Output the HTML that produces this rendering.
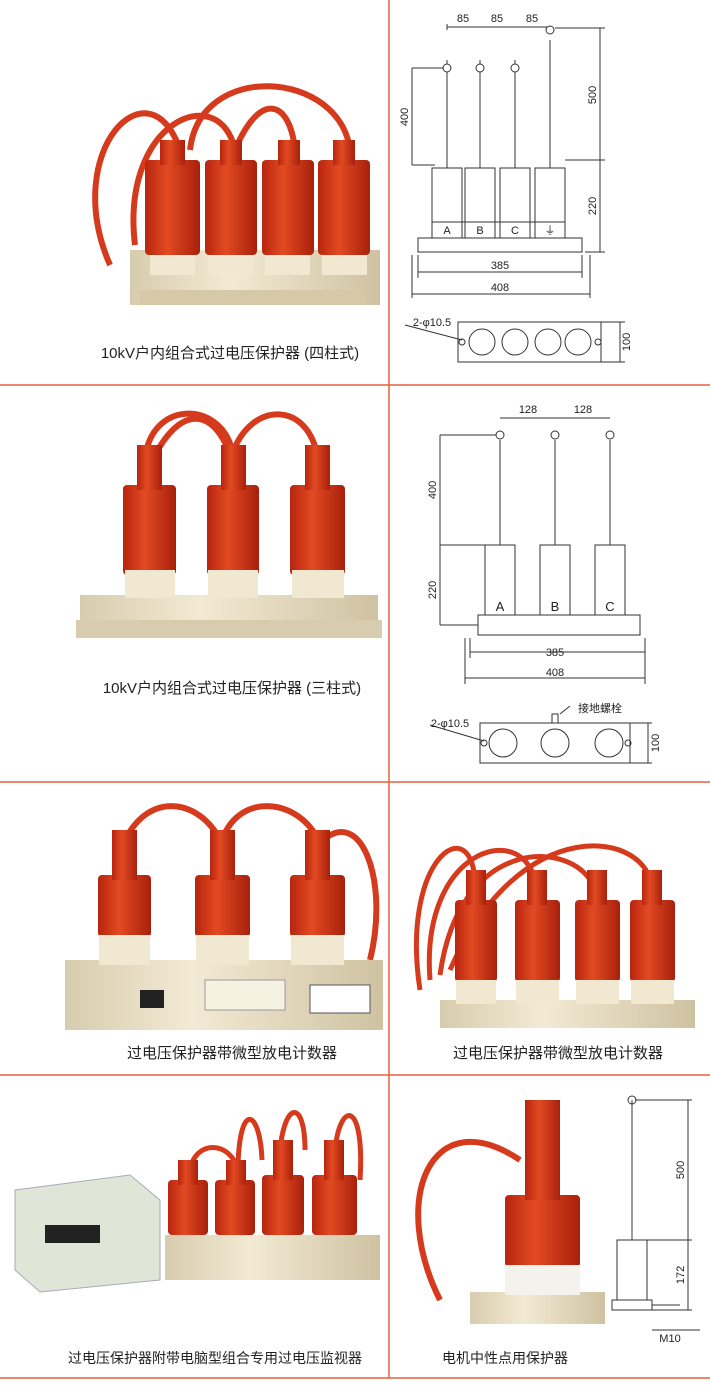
<!DOCTYPE html>
<html><head><meta charset="utf-8"><style>
html,body{margin:0;padding:0;background:#fff;}
svg{display:block;}
text{font-family:"Liberation Sans","Noto Sans CJK SC",sans-serif;fill:#222;}
</style></head><body>
<svg width="710" height="1400" viewBox="0 0 710 1400" xmlns="http://www.w3.org/2000/svg">
<defs>
<linearGradient id="red" x1="0" x2="1"><stop offset="0" stop-color="#b8250f"/><stop offset=".4" stop-color="#e24a22"/><stop offset="1" stop-color="#a8200c"/></linearGradient>
<linearGradient id="cream" x1="0" x2="1"><stop offset="0" stop-color="#d8ccae"/><stop offset=".4" stop-color="#f2ead4"/><stop offset="1" stop-color="#cfc2a2"/></linearGradient>
</defs>
<!-- grid lines -->
<g stroke="#e8603c" stroke-width="1.5">
<line x1="0" y1="385" x2="710" y2="385"/><line x1="0" y1="782" x2="710" y2="782"/>
<line x1="0" y1="1075" x2="710" y2="1075"/><line x1="0" y1="1378" x2="710" y2="1378"/>
<line x1="389" y1="0" x2="389" y2="1378"/>
</g>

<!-- SECTION 1 left photo -->
<g fill="none" stroke="#d63a1c" stroke-width="6">
<path d="M110 265 C60 150 150 60 180 150"/><path d="M135 245 C120 120 220 80 235 150"/>
<path d="M190 150 C200 60 340 70 350 150"/><path d="M235 150 C260 90 290 100 295 150"/>
</g>
<rect x="130" y="250" width="250" height="55" fill="url(#cream)"/>
<rect x="140" y="290" width="225" height="15" fill="#d6c9a8"/>
<g fill="url(#red)">
<rect x="145" y="160" width="55" height="95" rx="4"/><rect x="205" y="160" width="52" height="95" rx="4"/>
<rect x="262" y="160" width="52" height="95" rx="4"/><rect x="318" y="160" width="52" height="95" rx="4"/>
<rect x="160" y="140" width="25" height="25"/><rect x="220" y="140" width="22" height="25"/><rect x="278" y="140" width="22" height="25"/><rect x="333" y="140" width="22" height="25"/>
</g>
<g fill="#f0e8d0"><rect x="150" y="255" width="45" height="20"/><rect x="208" y="255" width="45" height="20"/><rect x="265" y="255" width="45" height="20"/><rect x="322" y="255" width="45" height="20"/></g>
<text x="230" y="358" font-size="15" text-anchor="middle">10kV户内组合式过电压保护器 (四柱式)</text>

<!-- SECTION 1 right drawing -->
<g stroke="#333" stroke-width="1" fill="none">
<line x1="447" y1="60" x2="447" y2="168"/><line x1="480" y1="60" x2="480" y2="168"/><line x1="515" y1="60" x2="515" y2="168"/><line x1="550" y1="40" x2="550" y2="168"/>
<rect x="432" y="168" width="30" height="70"/><rect x="465" y="168" width="30" height="70"/><rect x="500" y="168" width="30" height="70"/><rect x="535" y="168" width="30" height="70"/>
<line x1="432" y1="222" x2="565" y2="222"/>
<path d="M418 238 H582 V252 H418 Z"/>
<line x1="447" y1="30" x2="447" y2="24"/><line x1="447" y1="27" x2="550" y2="27"/>
<line x1="412" y1="68" x2="412" y2="165"/><line x1="412" y1="68" x2="445" y2="68"/><line x1="412" y1="165" x2="435" y2="165"/>
<line x1="600" y1="28" x2="600" y2="252"/><line x1="555" y1="28" x2="605" y2="28"/><line x1="565" y1="160" x2="605" y2="160"/><line x1="585" y1="252" x2="605" y2="252"/>
<line x1="418" y1="272" x2="582" y2="272"/><line x1="412" y1="294" x2="590" y2="294"/>
<line x1="418" y1="255" x2="418" y2="278"/><line x1="582" y1="255" x2="582" y2="278"/><line x1="412" y1="255" x2="412" y2="298"/><line x1="590" y1="255" x2="590" y2="298"/>
<rect x="458" y="322" width="143" height="40"/>
<circle cx="482" cy="342" r="13"/><circle cx="515" cy="342" r="13"/><circle cx="548" cy="342" r="13"/><circle cx="578" cy="342" r="13"/>
<circle cx="462" cy="342" r="3"/><circle cx="598" cy="342" r="3"/>
<line x1="620" y1="322" x2="620" y2="362"/><line x1="601" y1="322" x2="625" y2="322"/><line x1="601" y1="362" x2="625" y2="362"/>
<line x1="405" y1="325" x2="462" y2="340"/>
</g>
<g stroke="#333" fill="#fff"><circle cx="447" cy="68" r="4"/><circle cx="480" cy="68" r="4"/><circle cx="515" cy="68" r="4"/><circle cx="550" cy="30" r="4"/></g>
<g font-size="11" text-anchor="middle">
<text x="463" y="22">85</text><text x="497" y="22">85</text><text x="532" y="22">85</text>
<text x="447" y="234">A</text><text x="480" y="234">B</text><text x="515" y="234">C</text><text x="550" y="234">⏚</text>
<text x="500" y="269">385</text><text x="500" y="291">408</text>
<text x="432" y="326">2-φ10.5</text>
<text transform="translate(408 117) rotate(-90)">400</text><text transform="translate(596 95) rotate(-90)">500</text>
<text transform="translate(596 206) rotate(-90)">220</text><text transform="translate(630 342) rotate(-90)">100</text>
</g>

<!-- SECTION 2 left photo -->
<g fill="none" stroke="#d63a1c" stroke-width="6">
<path d="M145 460 C150 400 220 400 232 450"/><path d="M150 465 C180 400 215 410 230 455"/><path d="M232 455 C250 400 310 400 318 460"/>
</g>
<rect x="80" y="595" width="298" height="42" fill="url(#cream)"/>
<rect x="76" y="620" width="306" height="18" fill="#d8ccae"/>
<g fill="url(#red)">
<rect x="123" y="485" width="53" height="90" rx="4"/><rect x="207" y="485" width="52" height="90" rx="4"/><rect x="290" y="485" width="55" height="90" rx="4"/>
<rect x="137" y="445" width="25" height="45"/><rect x="221" y="445" width="25" height="45"/><rect x="305" y="445" width="25" height="45"/>
</g>
<g fill="#f0e8d0"><rect x="125" y="570" width="50" height="28"/><rect x="208" y="570" width="50" height="28"/><rect x="292" y="570" width="52" height="28"/></g>
<text x="232" y="693" font-size="15" text-anchor="middle">10kV户内组合式过电压保护器 (三柱式)</text>

<!-- SECTION 2 right drawing -->
<g stroke="#333" stroke-width="1" fill="none">
<line x1="500" y1="440" x2="500" y2="545"/><line x1="555" y1="440" x2="555" y2="545"/><line x1="610" y1="440" x2="610" y2="545"/>
<rect x="485" y="545" width="30" height="70"/><rect x="540" y="545" width="30" height="70"/><rect x="595" y="545" width="30" height="70"/>
<path d="M478 615 H640 V635 H478 Z"/>
<line x1="500" y1="418" x2="610" y2="418"/>
<line x1="440" y1="435" x2="440" y2="625"/><line x1="440" y1="435" x2="497" y2="435"/><line x1="440" y1="545" x2="485" y2="545"/><line x1="440" y1="625" x2="478" y2="625"/>
<line x1="470" y1="652" x2="645" y2="652"/><line x1="465" y1="678" x2="645" y2="678"/>
<line x1="470" y1="638" x2="470" y2="658"/><line x1="465" y1="638" x2="465" y2="684"/><line x1="645" y1="638" x2="645" y2="684"/>
<rect x="480" y="723" width="150" height="40"/>
<circle cx="503" cy="743" r="14"/><circle cx="555" cy="743" r="14"/><circle cx="609" cy="743" r="14"/>
<circle cx="484" cy="743" r="3"/><circle cx="628" cy="743" r="3"/>
<line x1="648" y1="723" x2="648" y2="763"/><line x1="630" y1="723" x2="652" y2="723"/><line x1="630" y1="763" x2="652" y2="763"/>
<line x1="430" y1="725" x2="484" y2="741"/>
<rect x="552" y="714" width="6" height="9"/><line x1="560" y1="714" x2="570" y2="706"/>
</g>
<g stroke="#333" fill="#fff"><circle cx="500" cy="435" r="4"/><circle cx="555" cy="435" r="4"/><circle cx="610" cy="435" r="4"/></g>
<g font-size="11" text-anchor="middle">
<text x="528" y="413">128</text><text x="583" y="413">128</text>
<text x="500" y="611" font-size="13">A</text><text x="555" y="611" font-size="13">B</text><text x="610" y="611" font-size="13">C</text>
<text x="555" y="656">385</text><text x="555" y="676">408</text>
<text x="450" y="727">2-φ10.5</text><text x="600" y="712">接地螺栓</text>
<text transform="translate(436 490) rotate(-90)">400</text><text transform="translate(436 590) rotate(-90)">220</text><text transform="translate(659 743) rotate(-90)">100</text>
</g>

<!-- SECTION 3 left photo -->
<g fill="none" stroke="#d63a1c" stroke-width="6">
<path d="M125 840 C150 790 200 800 220 840"/><path d="M222 840 C240 790 300 800 318 840"/><path d="M318 845 C360 800 390 880 370 960"/>
</g>
<rect x="65" y="960" width="318" height="70" fill="url(#cream)"/>
<rect x="140" y="990" width="24" height="18" fill="#222"/><rect x="310" y="985" width="60" height="28" fill="#fff" stroke="#555"/><rect x="205" y="980" width="80" height="30" fill="#f6f2e2" stroke="#999"/>
<g fill="url(#red)">
<rect x="98" y="875" width="53" height="62" rx="4"/><rect x="195" y="875" width="55" height="62" rx="4"/><rect x="290" y="875" width="55" height="62" rx="4"/>
<rect x="112" y="830" width="25" height="50"/><rect x="210" y="830" width="25" height="50"/><rect x="305" y="830" width="25" height="50"/>
</g>
<g fill="#f0e8d0"><rect x="99" y="935" width="51" height="30"/><rect x="196" y="935" width="53" height="30"/><rect x="291" y="935" width="53" height="30"/></g>
<text x="232" y="1058" font-size="15" text-anchor="middle">过电压保护器带微型放电计数器</text>

<!-- SECTION 3 right photo -->
<g fill="none" stroke="#d63a1c" stroke-width="5">
<path d="M420 990 C400 860 470 810 475 880"/><path d="M430 980 C420 850 520 820 535 880"/><path d="M440 975 C460 830 580 840 595 890"/><path d="M450 970 C520 810 650 830 652 890"/>
</g>
<rect x="440" y="1000" width="255" height="28" fill="url(#cream)"/>
<g fill="url(#red)">
<rect x="455" y="900" width="42" height="82" rx="4"/><rect x="515" y="900" width="45" height="82" rx="4"/><rect x="575" y="900" width="45" height="82" rx="4"/><rect x="630" y="900" width="45" height="82" rx="4"/>
<rect x="466" y="870" width="20" height="35"/><rect x="527" y="870" width="20" height="35"/><rect x="587" y="870" width="20" height="35"/><rect x="642" y="870" width="20" height="35"/>
</g>
<g fill="#f0e8d0"><rect x="456" y="980" width="40" height="24"/><rect x="516" y="980" width="43" height="24"/><rect x="576" y="980" width="43" height="24"/><rect x="631" y="980" width="43" height="24"/></g>
<text x="558" y="1058" font-size="15" text-anchor="middle">过电压保护器带微型放电计数器</text>

<!-- SECTION 4 left photo -->
<path d="M15 1190 L130 1175 L160 1200 L160 1280 L40 1292 L15 1270 Z" fill="#dfe6d8" stroke="#aab"/>
<rect x="45" y="1225" width="55" height="18" fill="#222"/>
<g fill="none" stroke="#d63a1c" stroke-width="5">
<path d="M190 1170 C195 1140 230 1140 238 1170"/><path d="M238 1165 C240 1100 260 1110 262 1160"/><path d="M280 1150 C285 1100 305 1100 305 1150"/><path d="M335 1150 C340 1100 365 1100 360 1180"/>
</g>
<rect x="165" y="1235" width="215" height="45" fill="url(#cream)"/>
<g fill="url(#red)">
<rect x="168" y="1180" width="40" height="55" rx="4"/><rect x="215" y="1180" width="40" height="55" rx="4"/><rect x="262" y="1175" width="42" height="60" rx="4"/><rect x="312" y="1175" width="45" height="60" rx="4"/>
<rect x="178" y="1160" width="20" height="25"/><rect x="226" y="1160" width="20" height="25"/><rect x="273" y="1140" width="20" height="40"/><rect x="324" y="1140" width="20" height="40"/>
</g>
<text x="215" y="1363" font-size="14" text-anchor="middle">过电压保护器附带电脑型组合专用过电压监视器</text>

<!-- SECTION 4 right photo -->
<path d="M440 1300 C390 1200 430 1100 520 1160" fill="none" stroke="#d63a1c" stroke-width="6"/>
<rect x="470" y="1292" width="135" height="32" fill="url(#cream)"/>
<rect x="505" y="1195" width="75" height="72" rx="4" fill="url(#red)"/>
<rect x="525" y="1100" width="35" height="100" fill="url(#red)"/>
<rect x="505" y="1265" width="75" height="30" fill="#f4f2ec"/>
<g stroke="#333" fill="none">
<line x1="632" y1="1100" x2="632" y2="1240"/><circle cx="632" cy="1100" r="4"/>
<rect x="617" y="1240" width="30" height="60"/><rect x="612" y="1300" width="40" height="10"/>
<line x1="652" y1="1305" x2="680" y2="1305"/>
<line x1="688" y1="1100" x2="688" y2="1310"/><line x1="635" y1="1100" x2="692" y2="1100"/><line x1="647" y1="1240" x2="692" y2="1240"/><line x1="652" y1="1310" x2="692" y2="1310"/>
<line x1="652" y1="1330" x2="700" y2="1330"/>
</g>
<g font-size="11" text-anchor="middle">
<text transform="translate(684 1170) rotate(-90)">500</text><text transform="translate(684 1275) rotate(-90)">172</text>
<text x="670" y="1342">M10</text>
</g>
<text x="505" y="1363" font-size="14" text-anchor="middle">电机中性点用保护器</text>
</svg>
</body></html>
